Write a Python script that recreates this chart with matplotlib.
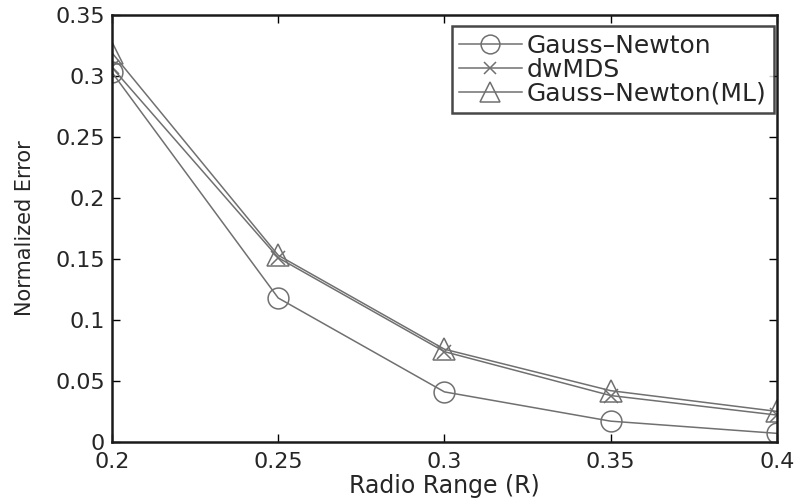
import matplotlib
matplotlib.use("Agg")
import matplotlib.pyplot as plt

plt.rcParams["font.family"] = ["DejaVu Sans"]

radio_range = [0.2, 0.25, 0.3, 0.35, 0.4]
gauss_newton = [0.303, 0.118, 0.041, 0.017, 0.007]
dwmds = [0.307, 0.151, 0.074, 0.038, 0.022]
gauss_newton_ml = [0.319, 0.153, 0.076, 0.042, 0.025]

fig = plt.figure(figsize=(8, 5.01), dpi=100)
ax = fig.add_axes([0.14, 0.118, 0.831, 0.852])

c = "#707070"
tc = "#262626"
ax.plot(radio_range, gauss_newton, "-", color=c, lw=1.1, marker="o", ms=15,
        mfc="none", mec=c, mew=1.1, label="Gauss\u2013Newton")
ax.plot(radio_range, dwmds, "-", color=c, lw=1.1, marker="x", ms=10,
        mec=c, mew=1.1, label="dwMDS")
ax.plot(radio_range, gauss_newton_ml, "-", color=c, lw=1.1, marker="^", ms=16,
        mfc="none", mec=c, mew=1.1, label="Gauss\u2013Newton(ML)")

ax.set_xlim(0.2, 0.4)
ax.set_ylim(0, 0.35)
ax.set_xticks([0.2, 0.25, 0.3, 0.35, 0.4])
ax.set_xticklabels(["0.2", "0.25", "0.3", "0.35", "0.4"])
ax.set_yticks([0, 0.05, 0.1, 0.15, 0.2, 0.25, 0.3, 0.35])
ax.set_yticklabels(["0", "0.05", "0.1", "0.15", "0.2", "0.25", "0.3", "0.35"])
ax.tick_params(direction="in", top=True, right=True, labelsize=16, length=6,
               width=1, labelcolor=tc)
ax.tick_params(axis="x", pad=7)
ax.tick_params(axis="y", pad=5)
for s in ax.spines.values():
    s.set_linewidth(1.8)
    s.set_color("#1a1a1a")

ax.set_xlabel("Radio Range (R)", fontsize=17, color=tc, va="top")
ax.xaxis.set_label_coords(0.5, -0.075)
ax.set_ylabel("Normalized Error", fontsize=15, color=tc)
ax.yaxis.set_label_coords(-0.116, 0.5)

leg = ax.legend(loc="upper right", bbox_to_anchor=(0.9955, 0.974), borderaxespad=0,
                fontsize=18, frameon=True, fancybox=False, edgecolor="#1a1a1a",
                handlelength=2.5, borderpad=0.3, labelspacing=0.0,
                handletextpad=0.2, markerscale=0.9)
for t in leg.get_texts():
    t.set_color(tc)
leg.get_frame().set_linewidth(1.8)

fig.savefig("out.png", dpi=100)
